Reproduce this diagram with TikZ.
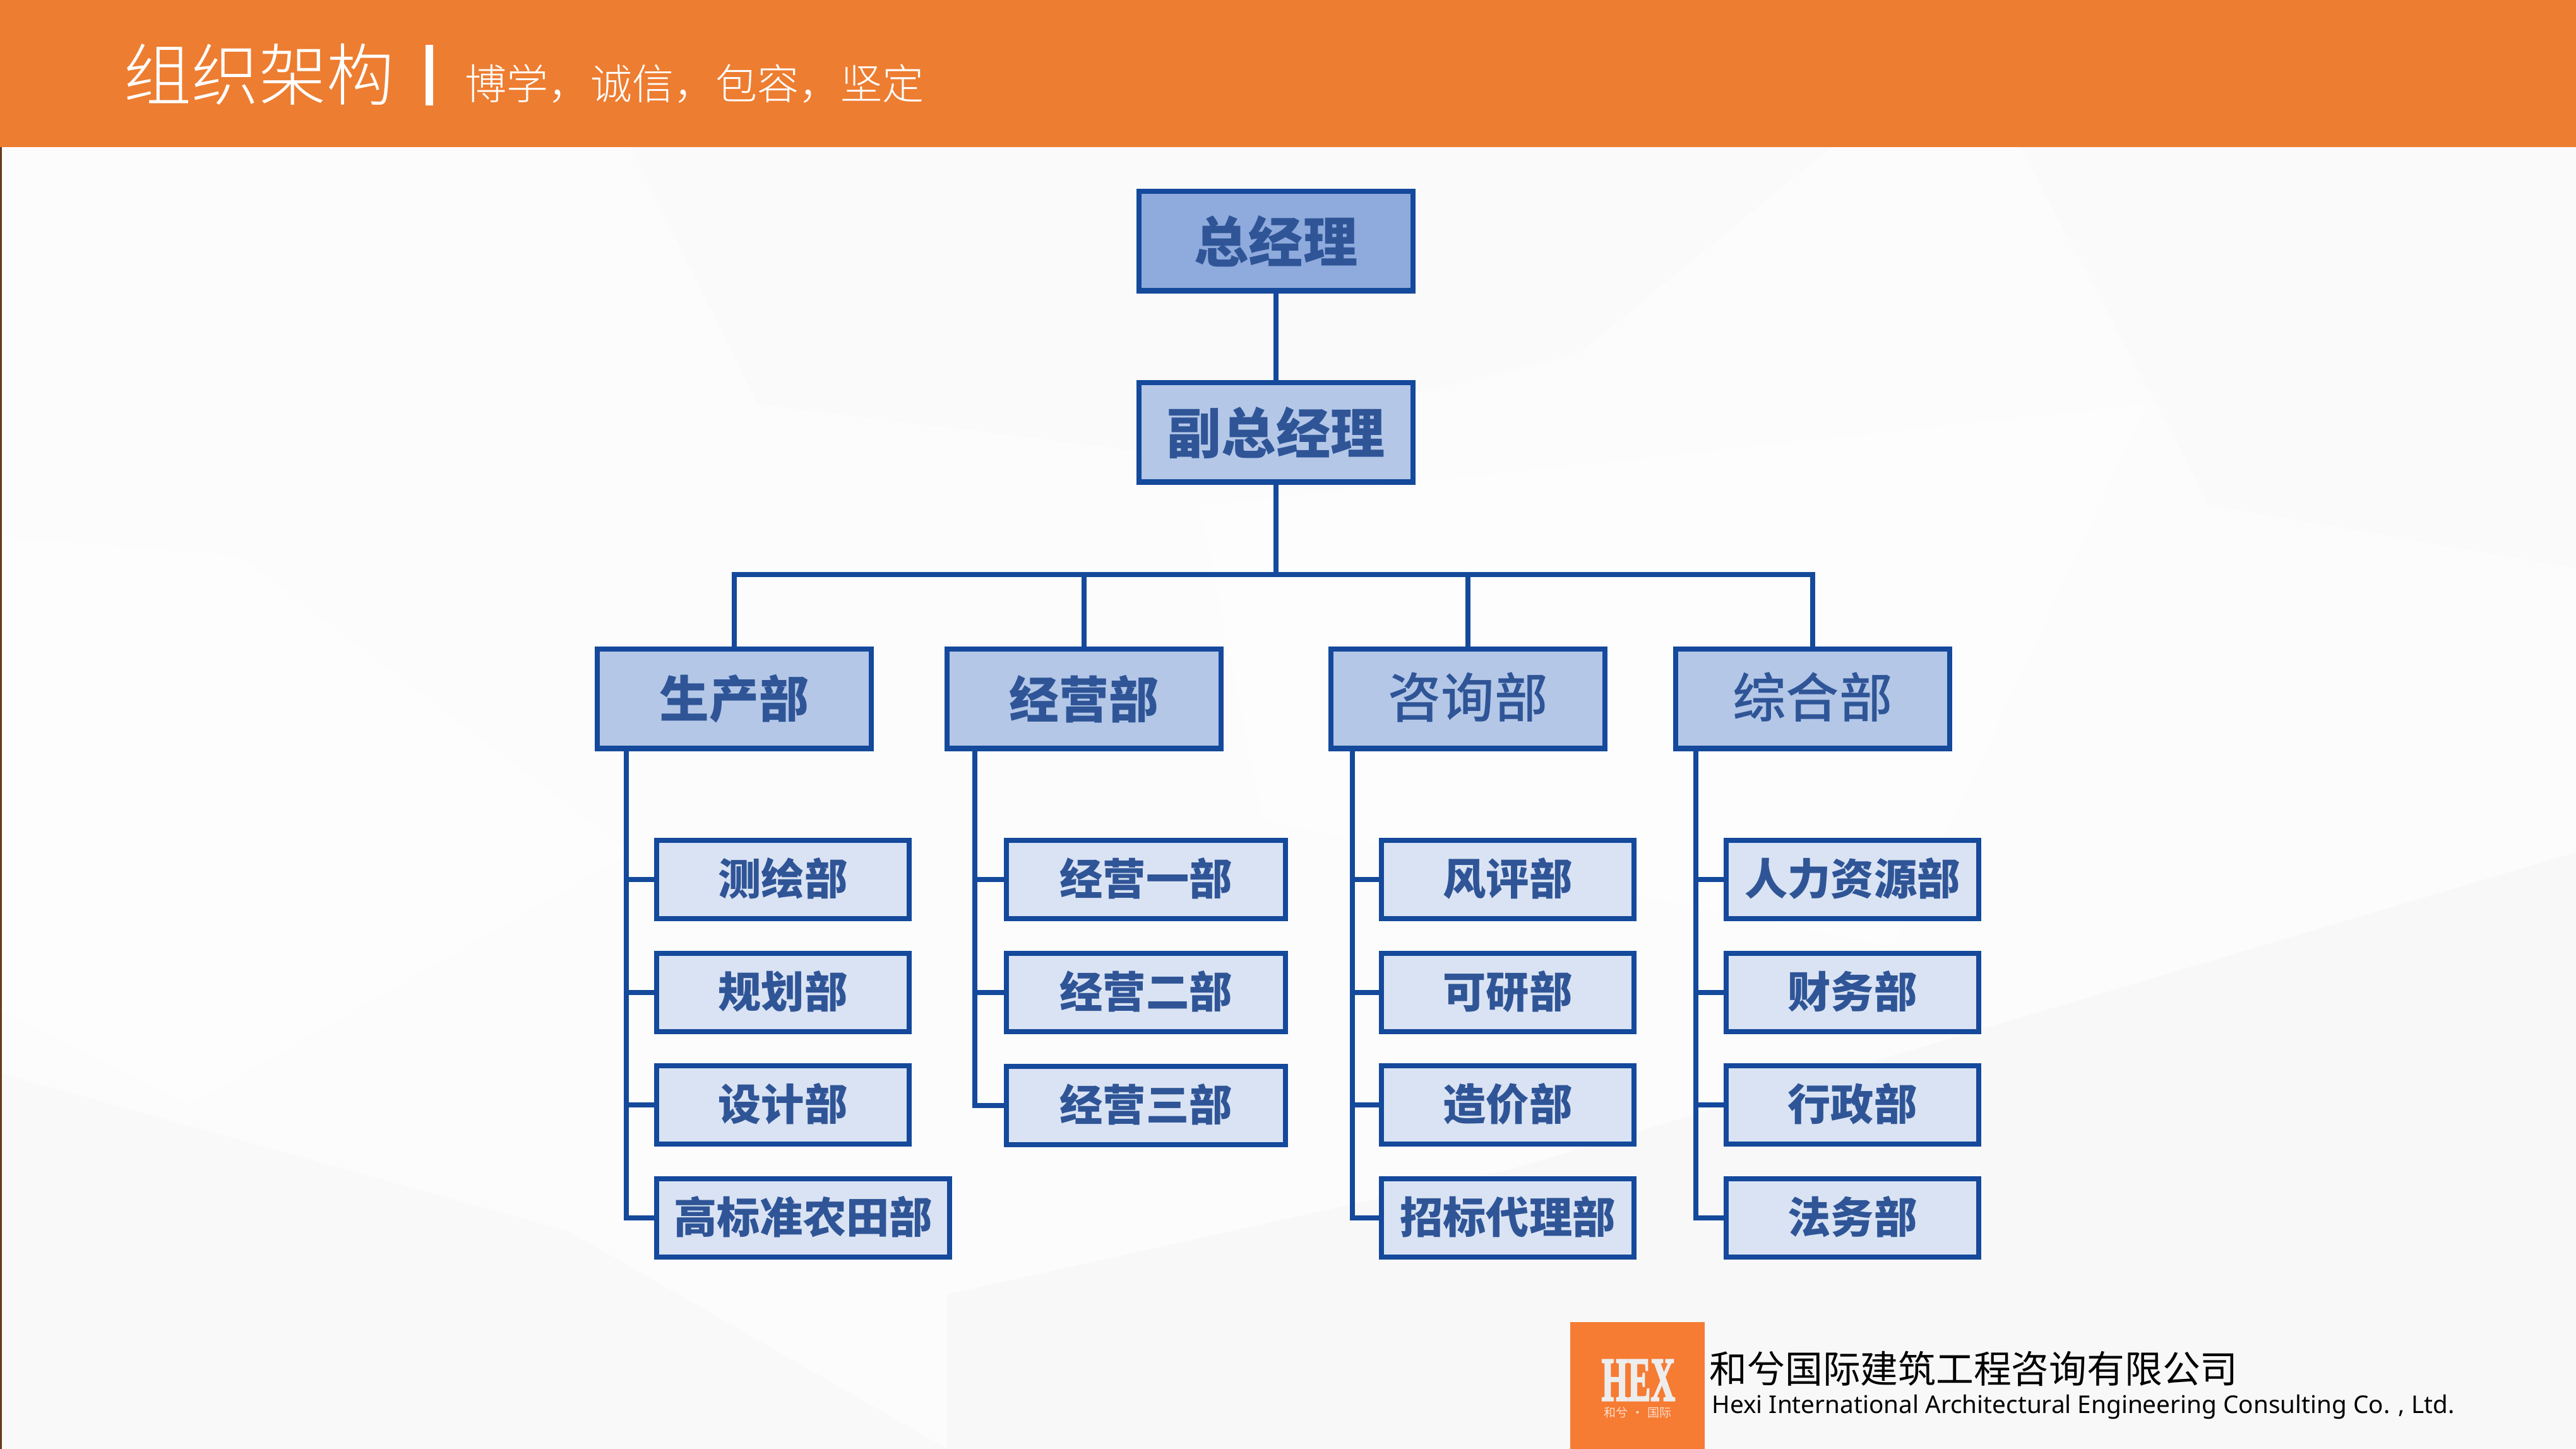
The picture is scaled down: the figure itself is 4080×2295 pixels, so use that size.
\documentclass[tikz,border=0pt]{standalone}
\usepackage{fontspec}
\setmainfont{Noto Sans}
\newfontfamily\cjk{Noto Sans CJK SC}
\newfontfamily\cjklight{Noto Sans CJK SC Light}
\newfontfamily\cjkmed{Noto Sans CJK SC Medium}
\newfontfamily\cjkbold{Noto Sans CJK SC Black}
\newfontfamily\hexfont[FakeBold=3]{Liberation Serif Bold}
\definecolor{linecol}{HTML}{14499B}
\definecolor{txtcol}{HTML}{2F5597}
\definecolor{topcol}{HTML}{8FAADC}
\definecolor{midcol}{HTML}{B4C7E7}
\definecolor{subcol}{HTML}{DAE3F3}
\definecolor{bandcol}{HTML}{ED7D31}
\definecolor{logocol}{HTML}{F67B33}
\definecolor{edgecol}{HTML}{6B3A1E}
\tikzset{
  main node/.style={rectangle,draw=linecol,line width=2.3pt,text=txtcol,inner sep=0pt,minimum height=1.57cm,minimum width=4.34cm},
  top node/.style={main node,fill=topcol,font=\cjkbold\fontsize{24.5pt}{26pt}\selectfont},
  dept node/.style={main node,fill=midcol,font=\cjkbold\fontsize{22.4pt}{24pt}\selectfont},
  plain dept/.style={main node,fill=midcol,text height=21pt,text depth=4pt,font=\cjkmed\fontsize{24pt}{26pt}\selectfont},
  sub node/.style={main node,fill=subcol,minimum height=1.24cm,minimum width=3.99cm,text height=16.5pt,text depth=2.8pt,font=\cjkbold\fontsize{19.4pt}{21pt}\selectfont},
  link/.style={draw=linecol,line width=2.3pt},
}
\begin{document}
\begin{tikzpicture}[x=0.01cm,y=-0.01cm]
\useasboundingbox (0,0) rectangle (4080,2295);
% backdrop shards
\fill[black!1.2] (0,233) rectangle (4080,2295);
\fill[black!2] (1000,233) -- (2900,233) -- (2500,560) -- (1850,720) -- (1200,640) -- cycle;
\fill[black!.6] (0,850) -- (380,880) -- (1000,1350) -- (300,1750) -- (0,1600) -- cycle;
\fill[black!.6] (1900,800) -- (3400,640) -- (3000,1500) -- (2000,1300) -- cycle;
\fill[black!2.2] (0,1700) -- (900,1950) -- (1500,2295) -- (0,2295) -- cycle;
\fill[black!2.8] (1500,2050) -- (2400,1850) -- (4080,1350) -- (4080,2295) -- (1500,2295) -- cycle;
\fill[black!1.8] (3200,233) -- (4080,233) -- (4080,900) -- (3500,800) -- cycle;
\fill[edgecol] (0,233) rectangle (3,2295);
% header band
\fill[bandcol] (0,0) rectangle (4080,233);
\node[anchor=base west,inner sep=0pt,text=white,font=\cjklight\fontsize{30.4pt}{32pt}\selectfont] (title) at (196,159) {组织架构};
\node[rectangle,fill=white,inner sep=0pt,minimum width=.12cm,minimum height=.96cm] (sep) at (680,119) {};
\node[anchor=base west,inner sep=0pt,text=white,font=\cjklight\fontsize{18.8pt}{20pt}\selectfont] (motto) at (736,158) {博学，诚信，包容，坚定};
% boxes
\begin{scope}
\node[top node] (m1) at (2021,382) {总经理};
\node[dept node,font=\cjkbold\fontsize{24.5pt}{26pt}\selectfont] (m2) at (2021,685) {副总经理};
\node[dept node] (d1) at (1163,1107) {生产部};
\node[dept node] (d2) at (1717,1107) {经营部};
\node[plain dept] (d3) at (2325,1107) {咨询部};
\node[plain dept] (d4) at (2871,1107) {综合部};
\node[sub node] (s11) at (1240,1393) {测绘部};
\node[sub node] (s12) at (1240,1572) {规划部};
\node[sub node] (s13) at (1240,1750) {设计部};
\node[sub node,minimum width=4.64cm] (s14) at (1272,1929) {高标准农田部};
\node[sub node,minimum width=4.41cm] (s21) at (1815,1393) {经营一部};
\node[sub node,minimum width=4.41cm] (s22) at (1815,1572) {经营二部};
\node[sub node,minimum width=4.41cm] (s23) at (1815,1751) {经营三部};
\node[sub node] (s31) at (2388,1393) {风评部};
\node[sub node] (s32) at (2388,1572) {可研部};
\node[sub node] (s33) at (2388,1750) {造价部};
\node[sub node] (s34) at (2388,1929) {招标代理部};
\node[sub node] (s41) at (2934,1393) {人力资源部};
\node[sub node] (s42) at (2934,1572) {财务部};
\node[sub node] (s43) at (2934,1750) {行政部};
\node[sub node] (s44) at (2934,1929) {法务部};
\end{scope}
% connectors
\begin{scope}
\coordinate (bus) at (2021,910);
\coordinate (t1) at (992,1190);
\coordinate (t2) at (1544,1190);
\coordinate (t3) at (2142,1190);
\coordinate (t4) at (2686,1190);
\draw[link] (m1) -- (m2);
\draw[link] (m2) -- (bus);
\draw[link] (d1.north) |- (bus);
\draw[link] (d2.north) |- (bus);
\draw[link] (d3.north) |- (bus);
\draw[link] (d4.north) |- (bus);
\draw[link] (t1) |- (s11.west);
\draw[link] (t1) |- (s12.west);
\draw[link] (t1) |- (s13.west);
\draw[link] (t1) |- (s14.west);
\draw[link] (t2) |- (s21.west);
\draw[link] (t2) |- (s22.west);
\draw[link] (t2) |- (s23.west);
\draw[link] (t3) |- (s31.west);
\draw[link] (t3) |- (s32.west);
\draw[link] (t3) |- (s33.west);
\draw[link] (t3) |- (s34.west);
\draw[link] (t4) |- (s41.west);
\draw[link] (t4) |- (s42.west);
\draw[link] (t4) |- (s43.west);
\draw[link] (t4) |- (s44.west);
\end{scope}
% company mark
\fill[logocol] (2487,2094) rectangle (2700,2295);
\node[inner sep=0pt,xscale=.545,transform shape,text=black!7,font=\hexfont\fontsize{28pt}{30pt}\selectfont] (hex) at (2595,2186) {HEX};
\node[inner sep=0pt,text=logocol!25!white,font=\cjk\fontsize{5.4pt}{6pt}\selectfont] (mark) at (2594,2237) {和兮\hspace{.3em}·\hspace{.3em}国际};
\node[anchor=base west,inner sep=0pt,text=black,font=\cjk\fontsize{17pt}{19pt}\selectfont] (cn) at (2707,2190) {和兮国际建筑工程咨询有限公司};
\node[anchor=base west,inner sep=0pt,text=black,font=\fontsize{11pt}{13pt}\selectfont] (en) at (2711,2238) {Hexi International Architectural Engineering Consulting Co. , Ltd.};
\end{tikzpicture}
\end{document}
